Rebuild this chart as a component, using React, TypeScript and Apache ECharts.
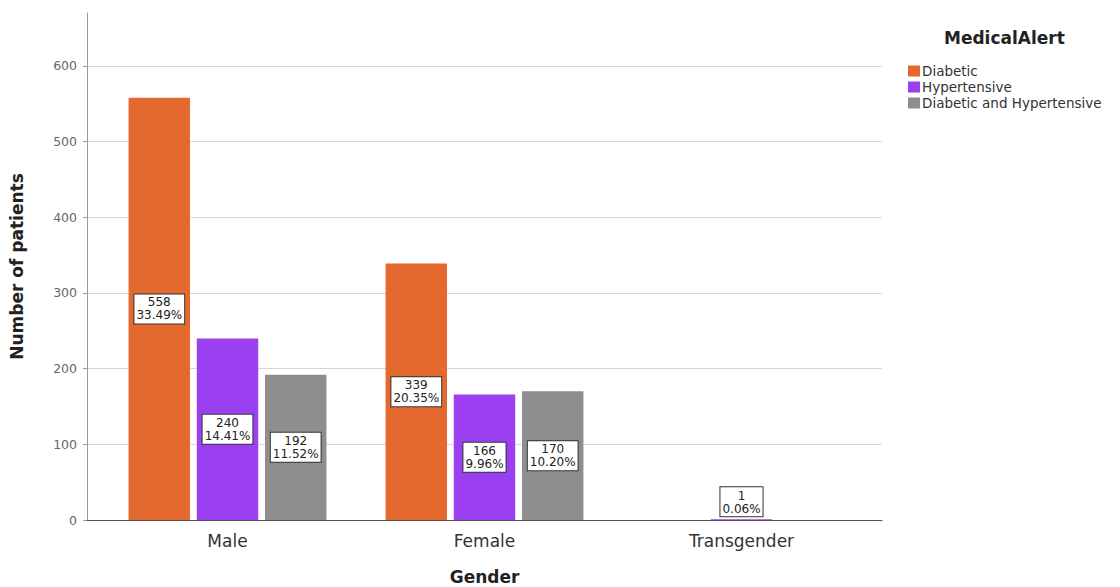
import React, { useEffect, useRef } from "react";
import * as echarts from "echarts";

const categories = ["Male", "Female", "Transgender"];
const seriesNames = ["Diabetic", "Hypertensive", "Diabetic and Hypertensive"];
const diabetic = [558, 339, null];
const hypertensive = [240, 166, 1];
const diabHyper = [192, 170, null];
const percents = [
  ["33.49%", "20.35%", ""],
  ["14.41%", "9.96%", "0.06%"],
  ["11.52%", "10.20%", ""],
];
const yTicks = [0, 100, 200, 300, 400, 500, 600];
const colors = ["#e3692f", "#9b40f0", "#8e8e8e"];
const FONT = "DejaVu Sans, Verdana, sans-serif";

export default function App() {
  const ref = useRef<HTMLDivElement>(null);
  useEffect(() => {
    document.body.style.margin = "0";
    const chart = echarts.init(ref.current!, null, { renderer: "svg" });
    const datas = [diabetic, hypertensive, diabHyper];
    const series = datas.map((d, si) => ({
      name: seriesNames[si],
      type: "bar",
      xAxisIndex: 1,
      yAxisIndex: 1,
      barGap: "11%",
      barCategoryGap: "23%",
      itemStyle: { color: colors[si] },
      data: d.map((v, ci) =>
        v == null
          ? null
          : {
              value: v,
              label: {
                show: true,
                position: v < 20 ? "top" : "inside",
                distance: 3,
                formatter: () => `${v}\n${percents[si][ci]}`,
                color: "#222",
                fontSize: 12,
                lineHeight: 13,
                fontFamily: FONT,
                backgroundColor: "#fff",
                borderColor: "#333",
                borderWidth: 1,
                padding: [2, 2, 1, 2],
                align: "center",
              },
            }
      ),
    }));
    const gridColors = yTicks.map(() => "#d6d6d6").concat(["rgba(0,0,0,0)"]);
    chart.setOption({
      animation: false,
      textStyle: { fontFamily: FONT },
      title: {
        text: "MedicalAlert",
        left: 939,
        top: 24,
        textStyle: { fontSize: 17, fontWeight: "bold", color: "#222", fontFamily: FONT },
      },
      legend: {
        orient: "vertical",
        left: 903,
        top: 59,
        itemWidth: 12,
        itemHeight: 11,
        itemGap: 2,
        icon: "rect",
        textStyle: { fontSize: 13.5, color: "#333", fontFamily: FONT, padding: [0, 0, 0, -3] },
        data: seriesNames,
      },
      grid: [
        { left: 87, right: 238, top: 13, bottom: 67, outerBoundsMode: "none", containLabel: false },
        { left: 99, right: 250, top: 13, bottom: 67, outerBoundsMode: "none", containLabel: false },
      ],
      xAxis: [
        {
          type: "category",
          gridIndex: 0,
          data: categories,
          axisLine: { lineStyle: { color: "#555", width: 1 } },
          axisTick: { show: false },
          axisLabel: { show: false },
          z: 10,
        },
        {
          type: "category",
          gridIndex: 1,
          data: categories,
          name: "Gender",
          nameLocation: "middle",
          nameGap: 48,
          nameTextStyle: { fontSize: 17, fontWeight: "bold", color: "#222", fontFamily: FONT },
          axisLine: { show: false, onZero: false },
          axisTick: { show: false },
          axisLabel: { fontSize: 17, color: "#333", margin: 12, fontFamily: FONT },
        },
      ],
      yAxis: [
        {
          type: "value",
          gridIndex: 0,
          min: 0,
          max: 670,
          interval: 100,
          name: "Number of patients",
          nameLocation: "middle",
          nameGap: 62,
          nameTextStyle: { fontSize: 17, fontWeight: "bold", color: "#222", fontFamily: FONT },
          axisLine: { show: true, lineStyle: { color: "#999" } },
          axisTick: { show: true, length: 4, lineStyle: { color: "#999" } },
          axisLabel: { fontSize: 12.5, color: "#666", margin: 10, showMaxLabel: false, fontFamily: FONT },
          splitLine: { show: true, lineStyle: { color: gridColors } },
        },
        {
          type: "value",
          gridIndex: 1,
          min: 0,
          max: 670,
          interval: 100,
          axisLine: { show: false },
          axisTick: { show: false },
          axisLabel: { show: false },
          splitLine: { show: false },
        },
      ],
      series,
    });
    return () => chart.dispose();
  }, []);
  return <div ref={ref} style={{ width: 1120, height: 587 }} />;
}
